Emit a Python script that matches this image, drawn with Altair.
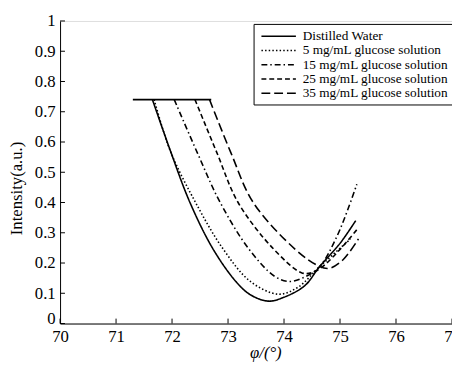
import altair as alt
import pandas as pd

series_names = [
    "Distilled Water",
    "5 mg/mL glucose solution",
    "15 mg/mL glucose solution",
    "25 mg/mL glucose solution",
    "35 mg/mL glucose solution",
]
dash_styles = [[1, 0], [1.5, 2.2], [6, 3, 1.5, 3], [5, 3], [9, 4]]

water_x = [71.65, 71.97, 72.32, 72.73, 73.14, 73.40, 73.72, 74.00, 74.37, 74.63, 75.00, 75.28]
water_y = [0.74, 0.571, 0.40, 0.247, 0.139, 0.095, 0.074, 0.087, 0.125, 0.187, 0.265, 0.34]

g5_x = [71.68, 71.97, 72.42, 72.91, 73.40, 73.90, 74.25, 74.63, 75.19]
g5_y = [0.74, 0.57, 0.40, 0.247, 0.139, 0.097, 0.12, 0.187, 0.28]

g15_x = [72.04, 72.45, 72.86, 73.37, 73.84, 74.10, 74.35, 74.63, 74.95, 75.30]
g15_y = [0.74, 0.565, 0.40, 0.247, 0.155, 0.139, 0.152, 0.187, 0.29, 0.46]

g25_x = [72.41, 72.80, 73.18, 73.81, 74.31, 74.50, 74.70, 75.00, 75.30]
g25_y = [0.74, 0.565, 0.40, 0.247, 0.168, 0.168, 0.19, 0.245, 0.31]

g35_x = [72.67, 73.05, 73.45, 74.19, 74.60, 74.80, 75.05, 75.33]
g35_y = [0.74, 0.565, 0.40, 0.247, 0.192, 0.182, 0.21, 0.28]

sat_x = [71.3, 72.7]
sat_y = [0.74, 0.74]

x_ticks = [70, 71, 72, 73, 74, 75, 76, 77]
y_ticks = [0, 0.1, 0.2, 0.3, 0.4, 0.5, 0.6, 0.7, 0.8, 0.9, 1.0]

rows = []
for name, xs, ys in zip(series_names,
                        [water_x, g5_x, g15_x, g25_x, g35_x],
                        [water_y, g5_y, g15_y, g25_y, g35_y]):
    for i, (a, b) in enumerate(zip(xs, ys)):
        rows.append({"series": name, "x": a, "y": b, "order": i})
df = pd.DataFrame(rows)
sat_df = pd.DataFrame({"x": sat_x, "y": sat_y})
xt_df = pd.DataFrame({"x": x_ticks})
yt_df = pd.DataFrame({"y": y_ticks})

W, H = 399, 308
FONT = "Liberation Serif"

xscale = alt.Scale(domain=[70, 77], nice=False, zero=False)
yscale = alt.Scale(domain=[0, 1], nice=False)

x_axis = alt.Axis(values=x_ticks, format="d", tickSize=0, labelPadding=5,
                  labelFlush=False, labelOverlap=False, grid=False,
                  domainColor="black",
                  labelFontSize=17, titleFontSize=17, labelColor="black",
                  titleColor="black", titleFontWeight="normal",
                  titleX=209, titleY=22, titleFontStyle="italic")
y_axis = alt.Axis(values=y_ticks, format="~g", tickSize=0, labelPadding=5,
                  labelFlush=False, labelOverlap=False, grid=False,
                  domainColor="black",
                  labelFontSize=17, titleFontSize=17, labelColor="black",
                  titleColor="black", titleFontWeight="normal",
                  titleX=-35, titleY=170,
                  labelOffset={"condition": {"test": "datum.value === 0", "value": -5}, "value": 0})

X = alt.X("x:Q", scale=xscale, axis=x_axis, title="φ/(°)")
Y = alt.Y("y:Q", scale=yscale, axis=y_axis, title="Intensity(a.u.)")

lines = alt.Chart(df).mark_line(strokeWidth=1.6, color="black", interpolate="catmull-rom").encode(
    x=X,
    y=Y,
    strokeDash=alt.StrokeDash(
        "series:N",
        scale=alt.Scale(domain=series_names, range=dash_styles),
        legend=alt.Legend(
            orient="none", legendX=197, legendY=3, title=None,
            symbolType="M-1,0H4.4", symbolSize=169, symbolOffset=2,
            symbolStrokeColor="black", symbolStrokeWidth=1.6,
            labelFont=FONT, labelFontSize=13.5, labelColor="black",
            labelOffset=28, strokeColor="black", fillColor="white",
            padding=5, rowPadding=0.5, labelLimit=300,
        ),
    ),
    order="order:Q",
)

sat = alt.Chart(sat_df).mark_line(strokeWidth=1.8, color="black").encode(x=X, y=Y)

xt = alt.Chart(xt_df).mark_rule(color="black", strokeWidth=1).encode(
    x=X, y=alt.value(H), y2=alt.value(H - 5),
)
yt = alt.Chart(yt_df).mark_rule(color="black", strokeWidth=1).encode(
    y=Y, x=alt.value(0), x2=alt.value(5),
)

chart = alt.layer(lines, sat, xt, yt).properties(
    width=W, height=H,
    autosize=alt.AutoSizeParams(type="none"),
    padding={"left": 53, "top": 10, "right": 0, "bottom": 39},
).configure_view(stroke=None).configure_axis(labelOverlap=False).configure(font=FONT)

chart.save("out.html", embed_options={"renderer": "svg", "actions": False})
